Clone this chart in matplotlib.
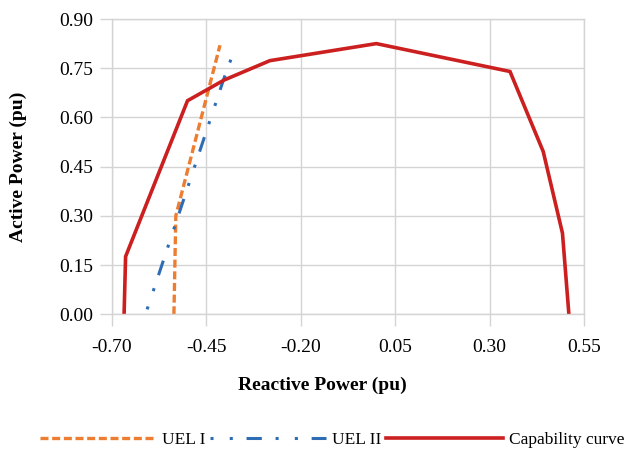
import matplotlib.pyplot as plt
from matplotlib.ticker import FixedLocator

# ========================== Data ================================================= #
uel1_q = [-0.536, -0.531, -0.414]
uel1_p = [0.0, 0.30, 0.82]

uel2_q = [-0.607, -0.405, -0.372]
uel2_p = [0.015, 0.714, 0.818]

cap_q = [-0.668, -0.664, -0.500, -0.403, -0.282, 0.000, 0.354, 0.442, 0.493, 0.510]
cap_p = [0.0, 0.176, 0.651, 0.714, 0.773, 0.825, 0.740, 0.496, 0.247, 0.0]

x_ticks = [-0.70, -0.45, -0.20, 0.05, 0.30, 0.55]
y_ticks = [0.00, 0.15, 0.30, 0.45, 0.60, 0.75, 0.90]

plt.rcParams["font.family"] = ["Liberation Serif", "DejaVu Serif"]
grid_color = "#d4d4d4"

fig = plt.figure(figsize=(6.24, 4.49), dpi=100)
ax = fig.add_axes([112 / 624, 1 - 314.3 / 449, 472 / 624, 295.3 / 449])

ax.plot(uel1_q, uel1_p, color="#ED7D31", lw=2.4, dashes=(2.4, 1.1),
        dash_capstyle="butt", label="UEL I")
ax.plot(uel2_q, uel2_p, color="#2E6DB4", lw=2.2,
        linestyle=(9.5, (5, 4.5, 1, 5.3, 1, 4.5)), label="UEL II")
ax.plot(cap_q, cap_p, color="#CC1F1F", lw=2.6, solid_joinstyle="miter",
        label="Capability curve")

ax.set_xlim(x_ticks[0], x_ticks[-1])
ax.set_ylim(y_ticks[0], y_ticks[-1])
ax.xaxis.set_major_locator(FixedLocator(x_ticks))
ax.yaxis.set_major_locator(FixedLocator(y_ticks))
ax.set_xticklabels([f"{v:.2f}" for v in x_ticks])
ax.set_yticklabels([f"{v:.2f}" for v in y_ticks])
ax.grid(True, color=grid_color, lw=1.0)
ax.set_axisbelow(True)
for s in ax.spines.values():
    s.set_color(grid_color)
    s.set_linewidth(1.0)
ax.tick_params(axis="both", length=8.5, width=1.0, color=grid_color,
               labelsize=14, labelcolor="black")
ax.tick_params(axis="x", pad=9)
ax.tick_params(axis="y", pad=5)

ax.set_xlabel("Reactive Power (pu)", fontsize=14, fontweight="bold")
ax.set_ylabel("Active Power (pu)", fontsize=14, fontweight="bold")
ax.xaxis.set_label_coords(0.445, (314.3 - 377) / 295.3)
ax.yaxis.set_label_coords((27 - 112) / 472, 0.50)

fig.legend(loc="center", bbox_to_anchor=(0.532, 1 - 440 / 449), ncol=3,
           frameon=False, fontsize=12.5, handlelength=6.7, handletextpad=0.35,
           columnspacing=0.25)

fig.savefig("out.png", dpi=100)
plt.close(fig)
